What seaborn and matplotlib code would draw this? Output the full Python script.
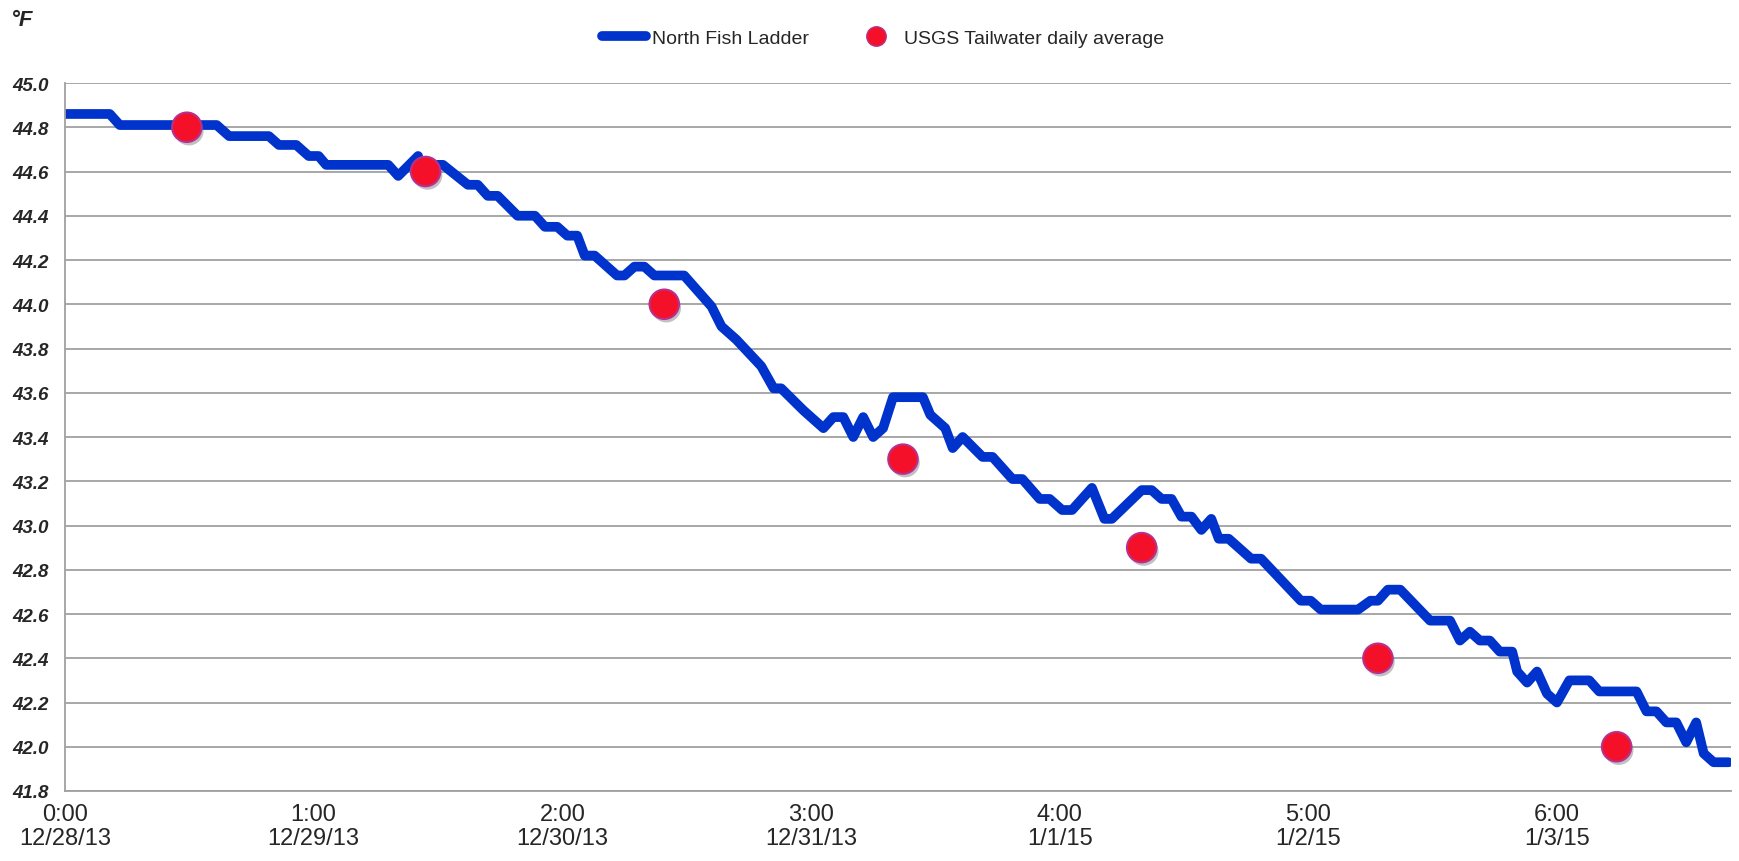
import numpy as np
import pandas as pd
import seaborn as sns
import matplotlib.pyplot as plt
from matplotlib.lines import Line2D
import matplotlib.patheffects as pe

# North Fish Ladder, days since 0:00 12/28/13 (NaN marks the small data gap)
ladder_day = [0.00, 0.18, 0.22, 0.61, 0.66, 0.82, 0.86, 0.93, 0.98, 1.02,
              1.05, 1.30, 1.34, 1.42, 1.44, 1.46, 1.52, 1.62, 1.66, 1.70,
              1.74, 1.82, 1.89, 1.93, 1.98, 2.02, 2.06, 2.09, 2.13, 2.22,
              2.25, 2.29, 2.33, 2.37, 2.49, 2.60, 2.64, 2.70, 2.80, 2.85,
              2.88, 2.97, 3.05, 3.09, 3.13, 3.17, 3.21, 3.25, 3.29, 3.33,
              3.45, 3.48, 3.51, 3.54, 3.57, 3.61, 3.69, 3.73, 3.81, 3.85,
              3.92, 3.96, 4.01, 4.05, 4.13, 4.18, 4.21, 4.33, 4.37, 4.41,
              4.45, 4.49, 4.53, 4.57, 4.61, 4.64, 4.68, 4.77, 4.81, 4.97,
              5.01, 5.05, 5.20, 5.25, 5.28, 5.32, 5.37, 5.49, 5.57, 5.61,
              5.65, 5.69, 5.73, 5.77, 5.82, 5.84, 5.88, 5.92, 5.96, 6.00,
              6.05, 6.13, 6.17, 6.32, 6.36, 6.40, 6.44, 6.48, 6.52, 6.56,
              6.59, 6.63, 6.69]
ladder_temp = [44.86, 44.86, 44.81, 44.81, 44.76, 44.76, 44.72, 44.72, 44.67, 44.67,
               44.63, 44.63, 44.58, 44.67, np.nan, 44.63, 44.63, 44.54, 44.54, 44.49,
               44.49, 44.40, 44.40, 44.35, 44.35, 44.31, 44.31, 44.22, 44.22, 44.13,
               44.13, 44.17, 44.17, 44.13, 44.13, 43.99, 43.90, 43.84, 43.72, 43.62,
               43.62, 43.52, 43.44, 43.49, 43.49, 43.40, 43.49, 43.40, 43.44, 43.58,
               43.58, 43.50, 43.47, 43.44, 43.35, 43.40, 43.31, 43.31, 43.21, 43.21,
               43.12, 43.12, 43.07, 43.07, 43.17, 43.03, 43.03, 43.16, 43.16, 43.12,
               43.12, 43.04, 43.04, 42.98, 43.03, 42.94, 42.94, 42.85, 42.85, 42.66,
               42.66, 42.62, 42.62, 42.66, 42.66, 42.71, 42.71, 42.57, 42.57, 42.48,
               42.52, 42.48, 42.48, 42.43, 42.43, 42.34, 42.29, 42.34, 42.24, 42.20,
               42.30, 42.30, 42.25, 42.25, 42.16, 42.16, 42.11, 42.11, 42.02, 42.11,
               41.97, 41.93, 41.93]

# USGS tailwater daily averages
usgs_day = [0.49, 1.45, 2.41, 3.37, 4.33, 5.28, 6.24]
usgs_temp = [44.8, 44.6, 44.0, 43.3, 42.9, 42.4, 42.0]

tick_days = [0, 1, 2, 3, 4, 5, 6]
tick_times = ["0:00", "1:00", "2:00", "3:00", "4:00", "5:00", "6:00"]
tick_dates = ["12/28/13", "12/29/13", "12/30/13", "12/31/13", "1/1/15", "1/2/15", "1/3/15"]

sns.set_style("white")
plt.rcParams["font.family"] = ["Liberation Sans", "DejaVu Sans"]

LINE_COLOR = "#0033CC"
DOT_FACE = "#F5102A"
DOT_EDGE = "#B8308C"
GRID = "#A0A0A0"

df = pd.DataFrame({"day": ladder_day, "temp": ladder_temp})
df["seg"] = df["temp"].isna().cumsum()
df = df.dropna()

fig = plt.figure(figsize=(17.4, 8.62), dpi=100)
ax = fig.add_axes([65 / 1740, 1 - 792 / 862, (1731 - 65) / 1740, (792 - 84) / 862])

sns.lineplot(data=df, x="day", y="temp", units="seg", estimator=None,
             color=LINE_COLOR, linewidth=7, ax=ax, legend=False,
             solid_capstyle="round", solid_joinstyle="round")
sns.scatterplot(x=usgs_day, y=usgs_temp, s=450, color=DOT_FACE,
                edgecolor=DOT_EDGE, linewidth=1.5, ax=ax, zorder=5, legend=False)
ax.collections[-1].set_path_effects([
    pe.SimplePatchShadow(offset=(1.5, -2.5), shadow_rgbFace="#666666", alpha=0.4),
    pe.Normal()])

ax.set_xlim(0, 6.70)
ax.set_ylim(41.8, 45.0)
ax.set_yticks(np.arange(41.8, 45.01, 0.2))
ax.set_yticklabels([f"{v:.1f}" for v in np.arange(41.8, 45.01, 0.2)],
                   fontsize=13.5, fontweight="bold", fontstyle="italic")
ax.set_xticks(tick_days)
ax.set_xticklabels([f"{t}\n{d}" for t, d in zip(tick_times, tick_dates)],
                   fontsize=17, linespacing=1.1)
ax.tick_params(axis="both", length=0)
ax.tick_params(axis="y", pad=12)
ax.tick_params(axis="x", pad=9)
ax.set_xlabel("")
ax.set_ylabel("")

ax.grid(axis="y", color=GRID, linewidth=1.3)
ax.grid(axis="x", visible=False)
for side in ["top", "right"]:
    ax.spines[side].set_visible(False)
for side in ["left", "bottom"]:
    ax.spines[side].set_color(GRID)
    ax.spines[side].set_linewidth(1.3)

fig.text(11 / 1740, 1 - 21 / 862, "°F", fontsize=16, fontweight="bold",
         fontstyle="italic", va="center", ha="left")

handles = [
    Line2D([], [], color=LINE_COLOR, linewidth=7, solid_capstyle="round"),
    Line2D([], [], linestyle="", marker="o", markersize=14,
           markerfacecolor=DOT_FACE, markeredgecolor=DOT_EDGE),
]
fig.legend(handles, ["North Fish Ladder", "USGS Tailwater daily average"],
           loc="center", bbox_to_anchor=(883 / 1740, 1 - 39 / 862), ncol=2,
           frameon=False, fontsize=14, handlelength=2.3, handletextpad=0.3,
           columnspacing=2.3)

fig.savefig("out.png", dpi=100)
